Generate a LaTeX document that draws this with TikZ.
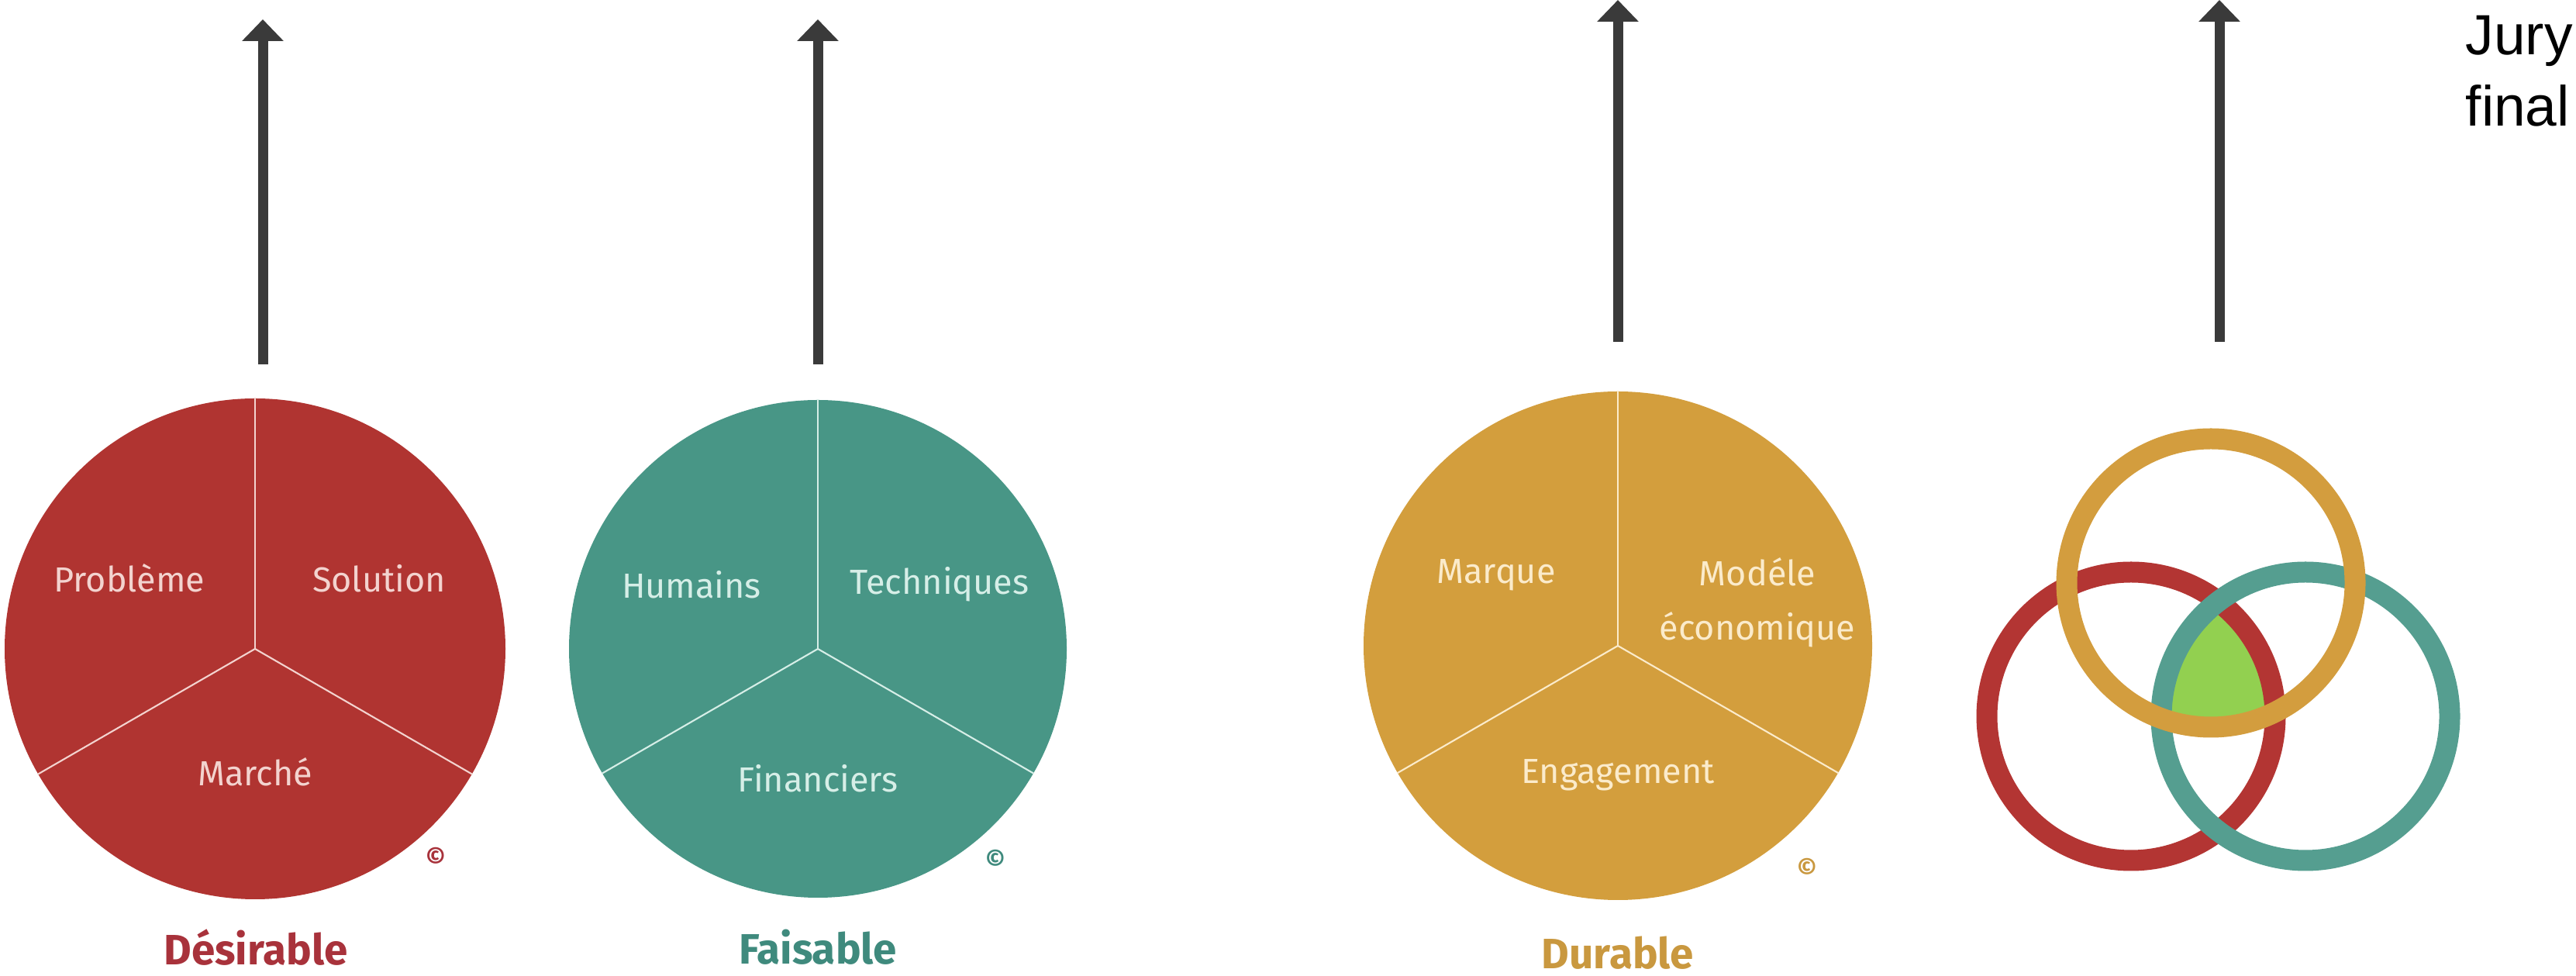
\documentclass[tikz,border=0pt]{standalone}
\usepackage{fontspec}
\setmainfont{Fira Sans}
\newfontfamily\juryfont{Liberation Sans}
\usetikzlibrary{arrows.meta,calc,positioning}
\definecolor{desred}{HTML}{B03431}
\definecolor{despale}{HTML}{F3D3CF}
\definecolor{destitle}{HTML}{A8323B}
\definecolor{faiteal}{HTML}{489686}
\definecolor{faipale}{HTML}{D6EEE7}
\definecolor{faititle}{HTML}{3F8A7D}
\definecolor{durgold}{HTML}{D39E3D}
\definecolor{durpale}{HTML}{FBEBCB}
\definecolor{durtitle}{HTML}{C9983F}
\definecolor{ringred}{HTML}{B33533}
\definecolor{ringteal}{HTML}{559E90}
\definecolor{ringgold}{HTML}{D39D3E}
\definecolor{core}{HTML}{92D050}
\definecolor{arrowgray}{HTML}{3A3A3A}

\begin{document}
\begin{tikzpicture}[pie/.style={circle, minimum size=#1, inner sep=0pt},
    part/.style={font=\fontsize{12.8}{19.9}\selectfont, text=#1, align=center},
    title/.style={font=\bfseries\fontsize{15.6}{18}\selectfont, text=#1, inner sep=0pt},
    copy/.style={font=\bfseries\fontsize{9}{10}\selectfont, text=#1},
    split/.style={draw=#1, line width=0.6pt},
    up/.style={-{Triangle[width=0.52cm,length=0.28cm]}, line width=0.13cm, draw=arrowgray},
    ring/.style={draw=#1, line width=0.27cm}]
            \useasboundingbox (0,0) rectangle (33.23,12.59);

            % the three pies
            \foreach \p/\x/\y/\r/\c in {D/3.29/4.22/6.46/desred, F/10.55/4.22/6.42/faiteal, R/20.87/4.26/6.56/durgold}{
                \node[pie=\r cm, fill=\c] (\p) at (\x,\y) {};
            }
            \foreach \p/\c in {D/despale, F/faipale, R/durpale}{
                \draw[split=\c] (\p.center) -- (\p.north);
                \draw[split=\c] (\p.center) -- (\p.210);
                \draw[split=\c] (\p.center) -- (\p.330);
            }

            \node[part=despale] (D1) at ($(D)+(-1.62,0.91)$) {Problème};
            \node[part=despale] (D2) at ($(D)+(1.60,0.91)$) {Solution};
            \node[part=despale] (D3) at ($(D)+(0,-1.59)$) {Marché};
            \node[copy=destitle] (Dc) at ($(D)+(2.33,-2.68)$) {©};
            \node[title=destitle] (Dt) at (3.30,0.37) {Désirable};

            \node[part=faipale] (F1) at ($(F)+(-1.63,0.83)$) {Humains};
            \node[part=faipale] (F2) at ($(F)+(1.57,0.83)$) {Techniques};
            \node[part=faipale] (F3) at ($(F)+(0,-1.67)$) {Financiers};
            \node[copy=faititle] (Fc) at ($(F)+(2.29,-2.71)$) {©};
            \node[title=faititle] (Ft) at (10.55,0.37) {Faisable};

            \node[part=durpale] (R1) at ($(R)+(-1.57,0.91)$) {Marque};
            \node[part=durpale] (R2) at ($(R)+(1.80,0.56)$) {Modéle\\économique};
            \node[part=durpale] (R3) at ($(R)+(0,-1.67)$) {Engagement};
            \node[copy=durtitle] (Rc) at ($(R)+(2.44,-2.86)$) {©};
            \node[title=durtitle] (Rt) at (20.87,0.30) {Durable};

            % arrows
            \foreach \a/\x/\b/\t in {1/3.39/7.89/12.34, 2/10.55/7.89/12.34, 3/20.87/8.18/12.59, 4/28.63/8.18/12.59}{
                \coordinate (s\a) at (\x,\b);
                \coordinate (e\a) at (\x,\t);
                \draw[up] (s\a) -- (e\a);
            }

            % venn
            \coordinate (vg) at (28.52,5.07);
            \coordinate (vr) at (27.49,3.35);
            \coordinate (vt) at (29.74,3.35);
            \begin{scope}
                \clip (vr) circle (1.86);
                \clip (vt) circle (1.86);
                \fill[core] (vg) circle (1.86);
            \end{scope}
            \draw[ring=ringred] (vr) circle (1.86);
            \draw[ring=ringteal] (vt) circle (1.86);
            \draw[ring=ringgold] (vg) circle (1.86);

            \node[font=\juryfont\fontsize{20.8}{25.9}\selectfont, align=left, anchor=north west, inner sep=0pt] (jury) at (31.80,12.39) {Jury\\final};
    \end{tikzpicture}
\end{document}
